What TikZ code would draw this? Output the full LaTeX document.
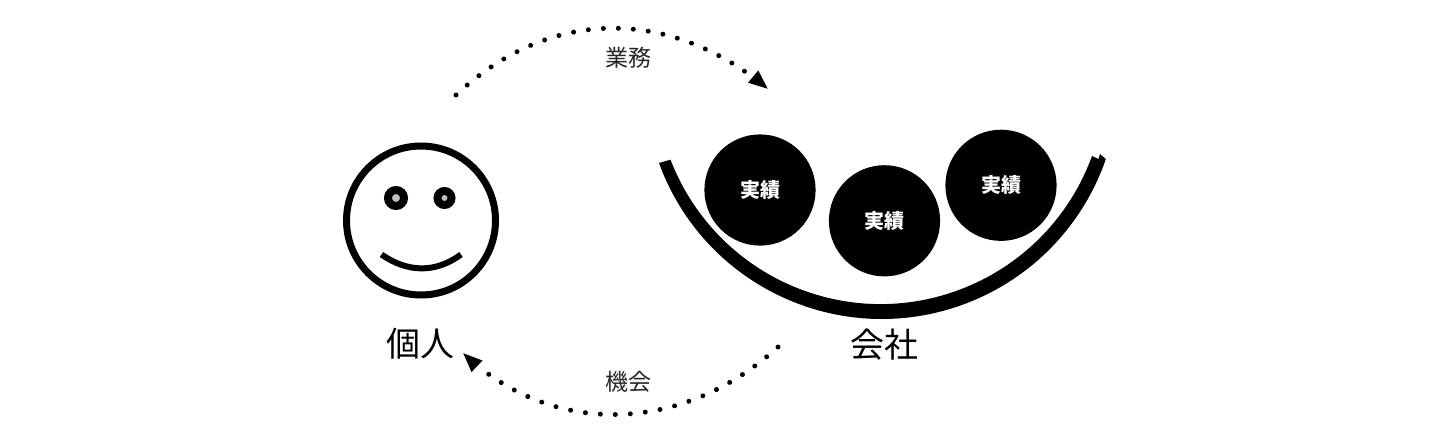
\documentclass[tikz,border=0pt]{standalone}
\usepackage{fontspec}
\setmainfont{Noto Sans CJK JP}
\usepackage{xcolor}
\usetikzlibrary{calc,decorations.markings}

\tikzset{
  ball/.style={circle,fill=black,inner sep=0pt,minimum size=55.6pt,text=white,font=\fontsize{10}{10}\selectfont\bfseries},
  eye/.style={circle,draw=black,line width=4pt,fill=black!25,inner sep=0pt,minimum size=#1},
  flow/.style={
    postaction={decoration={markings,mark=between positions 0 and -12pt step 7.5pt with {\fill (0,0) circle (1.25pt);}},decorate},
    postaction={decoration={markings,mark=at position 0.999 with {\fill (0,0) -- (-9.5pt,4pt) -- (-9.5pt,-4pt) -- cycle;}},decorate}},
  small/.style={inner sep=0pt,font=\fontsize{11.5}{11.5}\selectfont,text=black!85},
  big/.style={inner sep=0pt,font=\fontsize{17}{17}\selectfont}
}

\begin{document}
\begin{tikzpicture}[x=0.5pt,y=-0.5pt]
\useasboundingbox (0,0) rectangle (1440,444);
% person
\node [circle,draw=black,line width=3.5pt,inner sep=0pt,minimum size=74.5pt] (face) at (421,220.5) {};
\node [eye=8pt] (eyeL) at (396,198) {};
\node [eye=7pt] (eyeR) at (444.5,198) {};
\draw [line width=3pt] (381.5,254.5) .. controls (408,273) and (436,273) .. (461,254.5);
\node [big] (kojin) at (420,344) {個人};
% company
\fill (659,163) arc (160:19:237) -- (1100,154) -- (1098.5,159) -- (1092,156) arc (20:159:225) -- cycle;
\node [ball] (seki1) at (760,190) {実績};
\node [ball] (seki2) at (884.5,220.8) {実績};
\node [ball] (seki3) at (1001,185.3) {実績};
\node [big] (kaisha) at (884,345) {会社};
% flows
\coordinate (topS) at (456,95);
\coordinate (topE) at (768,89);
\coordinate (botS) at (778,347);
\coordinate (botE) at (463,353);
\path [flow] (topS) .. controls (550,7) and (670,7) .. (topE);
\path [flow] (botS) .. controls (680,436) and (550,436) .. (botE);
\node [small] (gyomu) at (628,58) {業務};
\node [small] (kikai) at (628,382) {機会};
\end{tikzpicture}
\end{document}
